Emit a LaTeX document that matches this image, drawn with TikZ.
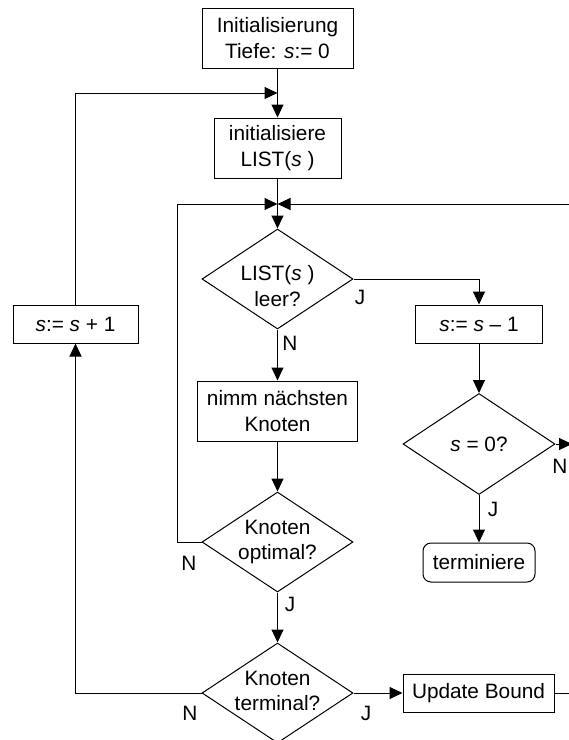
\documentclass[tikz,border=0pt]{standalone}
\usepackage{fontspec}
\setmainfont{Liberation Sans}
\usetikzlibrary{shapes.geometric,arrows.meta}
\begin{document}
\begin{tikzpicture}[x=1pt,y=-1pt,
  every node/.style={font=\fontsize{20.8}{25.5}\selectfont},
  box/.style={draw, line width=1pt, rectangle, align=center, inner sep=0pt},
  termbox/.style={box, rounded corners=8pt},
  dec/.style={draw, line width=1pt, diamond, minimum width=151pt, minimum height=100pt, inner sep=0pt},
  lbl/.style={align=center, inner sep=0pt},
  tag/.style={inner sep=0pt},
  flow/.style={line width=1pt},
  arr/.style={flow, -{Triangle[length=13pt,width=12pt]}},
]
\clip (0,0) rectangle (569,740);

% main column
\node[box, minimum width=151pt, minimum height=60pt] (init) at (277.5,38) {Initialisierung\\Tiefe: \textit{s}:= 0};
\node[box, minimum width=127pt, minimum height=60pt] (ilist) at (277.5,148) {initialisiere\\LIST(\textit{s} )};
\coordinate (back) at (277.5,93);
\coordinate (merge) at (277.5,204);
\node[dec, label={[lbl, yshift=-7pt]center:LIST(\textit{s} )\\leer?}] (empty) at (277.5,279) {};
\node[box, minimum width=160pt, minimum height=60pt] (next) at (277.5,411) {nimm nächsten\\Knoten};
\node[dec, label={[lbl]center:Knoten\\optimal?}] (opt) at (277.5,542) {};
\node[dec, label={[lbl, yshift=2pt]center:Knoten\\terminal?}] (leaf) at (277.5,693) {};

% right column
\node[box, minimum width=127pt, minimum height=38pt] (dec1) at (479,324) {\textit{s}:= \textit{s} – 1};
\node[dec, minimum width=152pt, minimum height=101pt, label={[lbl]center:\textit{s} = 0?}] (zero) at (479,444) {};
\node[termbox, minimum width=112pt, minimum height=39pt] (stop) at (479,562.5) {terminiere};
\node[box, minimum width=151pt, minimum height=38pt] (upd) at (478.5,693) {Update Bound};

% left column
\node[box, minimum width=125pt, minimum height=38pt] (inc) at (75.5,324) {\textit{s}:= \textit{s} + 1};

% free ends and corners
\coordinate (outN) at (572,444);
\coordinate (updR) at (569,693);
\coordinate (rin) at (569,204);
\coordinate (loopL) at (177,204);

% connectors
\draw[arr] (init) -- (ilist);
\draw[arr] (inc.north) |- (back);
\draw[arr] (ilist) -- (empty);
\draw[arr] (rin) -- (merge);
\draw[arr] (opt.west) -| (loopL) -- (merge);
\draw[arr] (empty.east) -| (dec1.north);
\draw[arr] (dec1) -- (zero);
\draw[arr] (zero.east) -- (outN);
\draw[arr] (zero) -- (stop);
\draw[arr] (empty) -- (next);
\draw[arr] (next) -- (opt);
\draw[arr] (opt) -- (leaf);
\draw[arr] (leaf.west) -| (inc.south);
\draw[arr] (leaf.east) -- (upd.west);
\draw[flow] (upd.east) -- (updR);

% branch labels
\node[tag] (j1) at (360,297) {J};
\node[tag] (n1) at (290,343) {N};
\node[tag] (n2) at (560,466) {N};
\node[tag] (j2) at (493,509) {J};
\node[tag] (n3) at (189,563) {N};
\node[tag] (j3) at (290,604) {J};
\node[tag] (n4) at (190,713) {N};
\node[tag] (j4) at (366,713) {J};
\end{tikzpicture}
\end{document}
